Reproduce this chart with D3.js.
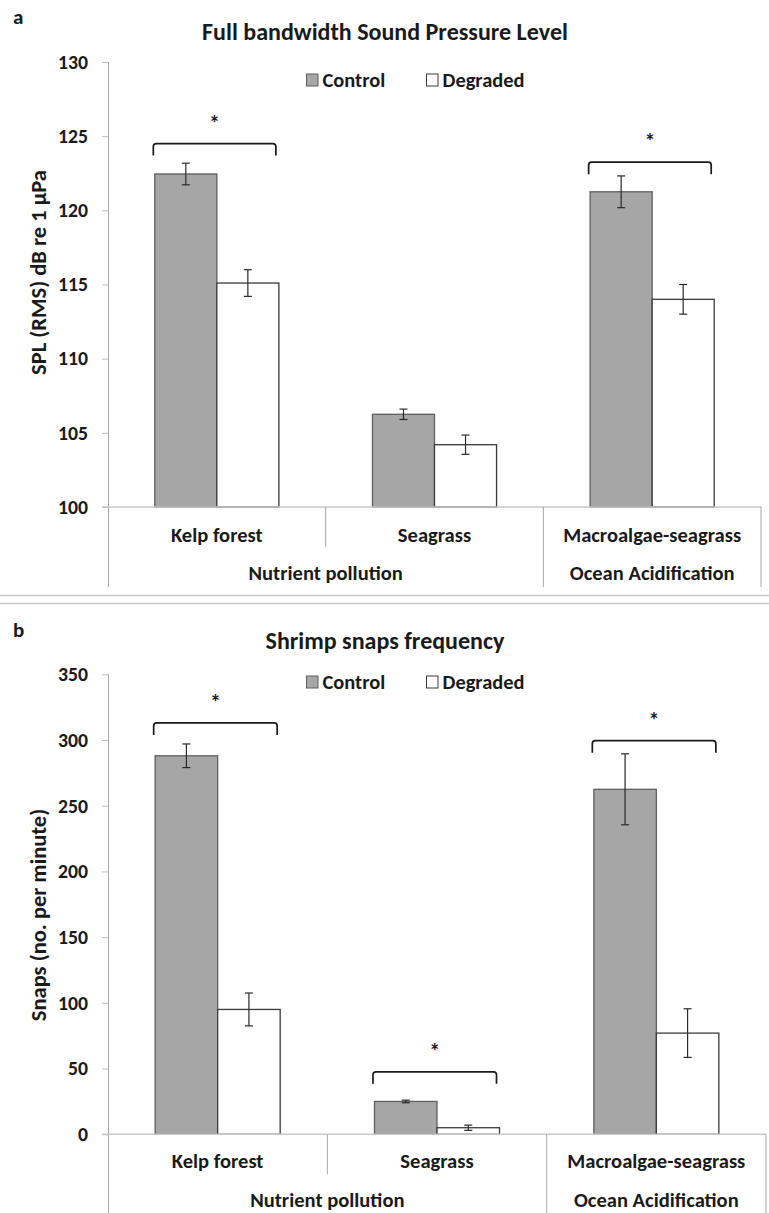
<!DOCTYPE html>
<html>
<head>
<meta charset="utf-8">
<script src="https://cdn.jsdelivr.net/npm/d3@7"></script>
<style>
  html, body { margin: 0; padding: 0; background: #fff; }
  svg { display: block; }
  text { font-family: Carlito, Lato, "Open Sans", sans-serif; font-weight: bold; fill: #1a1a1a; }
</style>
</head>
<body>
<svg id="chart" width="769" height="1213"></svg>
<script>
// Habitats and the stressor each group belongs to
const habitats = ["Kelp forest", "Seagrass", "Macroalgae-seagrass"];
const stressorLabels = ["Nutrient pollution", "Ocean Acidification"];
const stressorSpans = [2, 1];
const seriesNames = ["Control", "Degraded"];

// Panel a: full bandwidth SPL (dB re 1 µPa), mean ± SE
const splControl = [122.45, 106.25, 121.25];
const splControlErr = [0.73, 0.35, 1.07];
const splDegraded = [115.1, 104.2, 114.0];
const splDegradedErr = [0.9, 0.65, 1.0];
const splTicks = [100, 105, 110, 115, 120, 125, 130];
const splBrackets = [124.5, null, 123.25];

// Panel b: snapping shrimp snaps per minute, mean ± SE
const snapsControl = [288, 25, 262.5];
const snapsControlErr = [9, 1, 27];
const snapsDegraded = [95, 5, 77];
const snapsDegradedErr = [12.5, 2, 18.5];
const snapsTicks = [0, 50, 100, 150, 200, 250, 300, 350];
const snapsBrackets = [313, 47.5, 299.5];

const svg = d3.select("#chart");
const colors = { Control: "#a6a6a6", Degraded: "#ffffff" };
const strokes = { Control: "#5f5f5f", Degraded: "#3a3a3a" };

// Pick a font size so that a sample string spans the wanted width
function sizeFor(sample, width) {
  const t = svg.append("text").attr("font-size", 20).text(sample);
  const w = t.node().getComputedTextLength();
  t.remove();
  return 20 * width / w;
}
const fs = {
  title: sizeFor("Full bandwidth Sound Pressure Level", 366),
  label: sizeFor("Macroalgae-seagrass", 178),
  legend: sizeFor("Degraded", 82),
  tick: sizeFor("130", 30),
  axisTitle: sizeFor("SPL (RMS) dB re 1 µPa", 205),
  letter: 21,
  star: 22
};

function drawPanel(cfg) {
  const g = svg.append("g");
  const y = d3.scaleLinear().domain(cfg.domain).range([cfg.bottom, cfg.top]);
  const x = d3.scaleBand().domain(habitats).range([cfg.left, cfg.right])
    .paddingInner(0.43).paddingOuter(0.215);
  const xs = d3.scaleBand().domain(seriesNames).range([0, x.bandwidth()]);

  const rows = habitats.map((h, i) => ({
    habitat: h,
    Control: { v: cfg.control[i], e: cfg.controlErr[i] },
    Degraded: { v: cfg.degraded[i], e: cfg.degradedErr[i] },
    bracket: cfg.brackets[i]
  }));

  // panel letter and title
  g.append("text").attr("x", 13).attr("y", cfg.letterY).attr("font-size", fs.letter).text(cfg.letter);
  g.append("text").attr("x", 385).attr("y", cfg.titleY).attr("text-anchor", "middle")
    .attr("font-size", fs.title).text(cfg.title);

  // legend
  const leg = g.append("g").attr("transform", `translate(0,${cfg.legendY})`);
  const legX = [306.5, 426.5];
  seriesNames.forEach((s, i) => {
    leg.append("rect").attr("x", legX[i]).attr("y", -12.5).attr("width", 11.5).attr("height", 12)
      .attr("fill", colors[s]).attr("stroke", strokes[s]).attr("stroke-width", 1);
    leg.append("text").attr("x", legX[i] + 16).attr("y", 0).attr("font-size", fs.legend).text(s);
  });

  // y axis
  const yAxis = d3.axisLeft(y).tickValues(cfg.ticks).tickSize(6).tickPadding(14);
  const ya = g.append("g").attr("transform", `translate(${cfg.left},0)`).call(yAxis);
  ya.select(".domain").remove();
  ya.selectAll(".tick line").attr("stroke", "#bfbfbf");
  ya.selectAll(".tick text").attr("font-size", fs.tick).attr("fill", "#1a1a1a")
    .style("font-family", "Carlito, Lato, sans-serif").style("font-weight", "bold");

  // axis title
  g.append("text")
    .attr("transform", `translate(${cfg.titleX},${cfg.yTitleMid}) rotate(-90)`)
    .attr("text-anchor", "middle").attr("font-size", fs.axisTitle).text(cfg.yTitle);

  // vertical axis line, running down through the category rows
  g.append("line").attr("x1", cfg.left + 0.5).attr("x2", cfg.left + 0.5)
    .attr("y1", y(cfg.domain[1])).attr("y2", cfg.axisEnd).attr("stroke", "#a6a6a6");

  // bars
  rows.forEach(r => {
    seriesNames.forEach(s => {
      const x0 = x(r.habitat) + xs(s);
      g.append("rect").attr("x", x0).attr("y", y(r[s].v))
        .attr("width", xs.bandwidth()).attr("height", y(cfg.domain[0]) - y(r[s].v))
        .attr("fill", colors[s]).attr("stroke", strokes[s]).attr("stroke-width", 1.3);
    });
  });

  // baseline
  g.append("line").attr("x1", cfg.left - 6).attr("x2", cfg.right)
    .attr("y1", y(cfg.domain[0])).attr("y2", y(cfg.domain[0]))
    .attr("stroke", "#c8c8c8").attr("stroke-width", 1.6);

  // error bars
  rows.forEach(r => {
    seriesNames.forEach(s => {
      const cx = x(r.habitat) + xs(s) + xs.bandwidth() / 2;
      const lo = y(r[s].v - r[s].e), hi = y(r[s].v + r[s].e);
      const eb = g.append("g").attr("stroke", "#2a2a2a").attr("stroke-width", 1.2);
      eb.append("line").attr("x1", cx).attr("x2", cx).attr("y1", lo).attr("y2", hi);
      eb.append("line").attr("x1", cx - 4).attr("x2", cx + 4).attr("y1", lo).attr("y2", lo);
      eb.append("line").attr("x1", cx - 4).attr("x2", cx + 4).attr("y1", hi).attr("y2", hi);
    });
  });

  // significance brackets
  rows.filter(r => r.bracket !== null).forEach(r => {
    const x0 = x(r.habitat) - 1.5, x1 = x(r.habitat) + x.bandwidth() - 3;
    const by = y(r.bracket), drop = 12, rad = 3;
    const p = d3.path();
    p.moveTo(x0, by + drop);
    p.lineTo(x0, by + rad);
    p.quadraticCurveTo(x0, by, x0 + rad, by);
    p.lineTo(x1 - rad, by);
    p.quadraticCurveTo(x1, by, x1, by + rad);
    p.lineTo(x1, by + drop);
    g.append("path").attr("d", p.toString()).attr("fill", "none")
      .attr("stroke", "#1a1a1a").attr("stroke-width", 1.7);
    g.append("text").attr("x", (x0 + x1) / 2).attr("y", by - 13)
      .attr("text-anchor", "middle").attr("font-size", fs.star).text("*");
  });

  // category rows: habitat labels and stressor groups
  const baseY = y(cfg.domain[0]);
  habitats.forEach(h => {
    g.append("text").attr("x", x(h) + x.bandwidth() / 2).attr("y", baseY + cfg.labelDy)
      .attr("text-anchor", "middle").attr("font-size", fs.label).text(h);
  });
  let idx = 0;
  stressorSpans.forEach((span, k) => {
    const first = habitats[idx], last = habitats[idx + span - 1];
    const gx0 = x(first) - x.step() * x.paddingInner() / 2;
    const gx1 = x(last) + x.bandwidth() + x.step() * x.paddingInner() / 2;
    g.append("text").attr("x", (gx0 + gx1) / 2).attr("y", baseY + cfg.groupDy)
      .attr("text-anchor", "middle").attr("font-size", fs.label).text(stressorLabels[k]);
    // inner separators within a group stay short
    for (let j = 1; j < span; j++) {
      const sx = x(habitats[idx + j]) - x.step() * x.paddingInner() / 2;
      g.append("line").attr("x1", sx).attr("x2", sx).attr("y1", baseY).attr("y2", baseY + cfg.shortSep)
        .attr("stroke", "#a6a6a6");
    }
    // group right edge runs through both rows
    g.append("line").attr("x1", gx1).attr("x2", gx1).attr("y1", baseY).attr("y2", cfg.axisEnd)
      .attr("stroke", "#a6a6a6");
    idx += span;
  });
}

drawPanel({
  letter: "a", letterY: 23.5, title: "Full bandwidth Sound Pressure Level", titleY: 39.5,
  legendY: 86.5, domain: [100, 130], ticks: splTicks, top: 62, bottom: 507,
  left: 108, right: 761, axisEnd: 587, labelDy: 34.5, groupDy: 72.5, shortSep: 40,
  control: splControl, controlErr: splControlErr, degraded: splDegraded, degradedErr: splDegradedErr,
  brackets: splBrackets, yTitle: "SPL (RMS) dB re 1 µPa", titleX: 46, yTitleMid: 272.5
});

// divider between the two panels
[595.5, 603.5].forEach(yy => {
  svg.append("line").attr("x1", 0).attr("x2", 769).attr("y1", yy).attr("y2", yy)
    .attr("stroke", "#c8c8c8").attr("stroke-width", 1.3);
});

drawPanel({
  letter: "b", letterY: 636.5, title: "Shrimp snaps frequency", titleY: 649,
  legendY: 688.5, domain: [0, 350], ticks: snapsTicks, top: 674.3, bottom: 1134.3,
  left: 108, right: 766, axisEnd: 1213, labelDy: 33.5, groupDy: 72.5, shortSep: 40,
  control: snapsControl, controlErr: snapsControlErr, degraded: snapsDegraded, degradedErr: snapsDegradedErr,
  brackets: snapsBrackets, yTitle: "Snaps (no. per minute)", titleX: 46, yTitleMid: 915
});
</script>
</body>
</html>
